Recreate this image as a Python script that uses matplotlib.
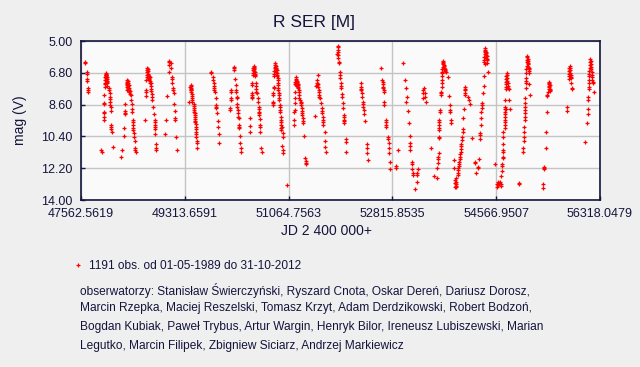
import numpy as np
import matplotlib
matplotlib.use("Agg")
import matplotlib.pyplot as plt

# R Ser light curve, (JD - 2400000, visual mag) read per cycle
c01 = [(47635, 6.17), (47635, 6.26), (47658, 6.77), (47658, 6.87), (47669, 7.17), (47669, 7.25),
       (47686, 7.68), (47686, 7.77), (47686, 7.87)]
c02 = [(47907, 11.15), (47912, 11.28), (47955, 8.06), (47955, 8.49), (47955, 8.57), (47955, 9.0),
       (47955, 9.06), (47955, 9.28), (47955, 9.47), (47967, 7.6), (47968, 7.45), (47970, 7.35),
       (47972, 7.2), (47975, 7.05), (47977, 6.95), (47978, 6.85), (47980, 6.9), (47983, 7.0),
       (47985, 7.1), (47988, 7.2), (47990, 6.8), (47992, 6.92), (47995, 7.3), (47998, 7.15),
       (48000, 7.05), (48003, 7.25), (48006, 7.4), (48008, 7.55), (48040, 7.68), (48040, 7.77),
       (48045, 7.96), (48050, 8.15), (48053, 8.3), (48055, 8.43), (48060, 8.62), (48065, 8.72),
       (48073, 8.96), (48073, 9.75), (48073, 9.89), (48073, 10.0), (48090, 10.15), (48107, 10.98)]
c03 = [(48241, 11.58), (48258, 11.17), (48292, 9.94), (48292, 10.4), (48309, 8.58), (48309, 8.96),
       (48309, 9.06), (48309, 9.15), (48331, 7.6), (48333, 7.75), (48336, 7.45), (48338, 7.3),
       (48340, 7.2), (48343, 7.5), (48345, 7.35), (48348, 7.65), (48350, 7.25), (48354, 7.4),
       (48358, 7.55), (48362, 7.7), (48366, 7.8), (48370, 7.5), (48375, 7.65), (48380, 7.9),
       (48386, 7.85), (48393, 8.0), (48404, 8.06), (48404, 8.34), (48426, 8.58), (48426, 8.87),
       (48426, 9.0), (48443, 9.47), (48443, 9.57), (48443, 9.75), (48443, 9.94), (48443, 10.04),
       (48460, 10.23), (48460, 10.42), (48477, 10.66), (48471, 11.08), (48471, 11.17), (48494, 11.3)]
c04 = [(48645, 9.47), (48662, 7.77), (48662, 7.87), (48662, 8.11), (48664, 7.2), (48668, 7.05),
       (48672, 6.9), (48676, 6.75), (48680, 6.65), (48684, 6.55), (48688, 6.6), (48690, 6.7),
       (48694, 6.85), (48698, 6.95), (48702, 7.1), (48706, 7.0), (48710, 7.15), (48714, 7.2),
       (48720, 7.05), (48726, 7.25), (48732, 7.35), (48746, 7.4), (48746, 7.55), (48748, 7.7),
       (48750, 7.85), (48752, 8.0), (48763, 8.15), (48763, 8.34), (48780, 8.72), (48797, 9.15),
       (48808, 9.47), (48808, 9.57), (48814, 9.75), (48814, 9.89), (48814, 10.0), (48814, 10.28),
       (48830, 10.83), (48836, 11.08), (48836, 11.17)]
c05 = [(48982, 10.28), (48999, 9.47), (49016, 8.11), (49050, 6.2), (49055, 6.11), (49055, 6.36),
       (49049, 6.77), (49077, 6.26), (49077, 6.55), (49100, 7.06), (49100, 7.17), (49105, 7.4),
       (49117, 7.68), (49117, 7.77), (49133, 7.96), (49133, 8.58), (49150, 8.96), (49150, 9.38),
       (49150, 9.47), (49173, 10.45), (49184, 11.17)]
c06 = [(49381, 8.45), (49409, 7.6), (49411, 7.5), (49413, 7.65), (49416, 7.55), (49418, 7.7),
       (49420, 7.8), (49423, 7.75), (49426, 7.9), (49428, 8.0), (49431, 8.1), (49434, 8.2),
       (49437, 8.35), (49440, 8.45), (49465, 8.55), (49467, 8.7), (49470, 8.8), (49473, 8.9),
       (49476, 9.0), (49479, 9.1), (49482, 9.2), (49485, 9.3), (49488, 9.4), (49490, 9.5),
       (49493, 9.6), (49496, 9.7), (49504, 9.85), (49504, 10.0), (49504, 10.13), (49504, 10.28),
       (49504, 10.42), (49516, 10.66), (49516, 10.79), (49516, 11.08)]
c07 = [(49762, 6.77), (49762, 6.83), (49790, 7.02), (49790, 7.2), (49807, 7.4), (49807, 7.55),
       (49807, 7.68), (49810, 7.77), (49824, 7.87), (49841, 8.25), (49841, 8.62), (49841, 8.72),
       (49841, 8.81), (49858, 9.09), (49875, 9.53), (49875, 9.89), (49891, 10.28), (49891, 10.79)]
c08 = [(50077, 8.81), (50077, 8.91), (50093, 7.77), (50093, 7.87), (50093, 8.25), (50093, 8.34),
       (50144, 6.49), (50144, 6.55), (50144, 6.64), (50161, 7.17), (50172, 7.49), (50178, 7.77),
       (50178, 7.87), (50194, 8.15), (50194, 8.25), (50194, 8.58), (50194, 8.72), (50211, 8.91),
       (50211, 9.09), (50211, 9.28), (50228, 9.38), (50228, 9.75), (50228, 9.89), (50228, 9.94),
       (50245, 10.4), (50245, 10.79), (50262, 11.08), (50262, 11.3)]
c09 = [(50413, 9.38), (50413, 9.79), (50413, 10.17), (50447, 7.4), (50447, 7.49), (50447, 7.96),
       (50447, 8.06), (50447, 8.15), (50447, 8.25), (50464, 6.95), (50466, 6.8), (50469, 6.65),
       (50472, 6.55), (50475, 6.45), (50478, 6.42), (50481, 6.5), (50484, 6.6), (50487, 6.7),
       (50490, 6.85), (50494, 6.75), (50498, 6.9), (50503, 6.98), (50514, 7.4), (50514, 7.55),
       (50516, 7.7), (50520, 7.87), (50525, 7.96), (50548, 8.25), (50548, 8.47), (50559, 8.72),
       (50559, 8.85), (50559, 9.0), (50562, 9.1), (50562, 9.19), (50582, 9.43), (50582, 9.75),
       (50582, 9.89), (50582, 10.17), (50598, 11.08), (50615, 11.3)]
c10 = [(50800, 7.96), (50800, 8.06), (50800, 8.43), (50800, 8.53), (50800, 8.62), (50817, 7.58),
       (50817, 7.68), (50820, 7.0), (50823, 6.85), (50826, 6.7), (50830, 6.55), (50834, 6.45),
       (50838, 6.36), (50842, 6.26), (50846, 6.4), (50850, 6.5), (50854, 6.6), (50858, 6.75),
       (50862, 6.65), (50866, 6.9), (50870, 6.8), (50875, 7.0), (50880, 7.1), (50885, 7.2),
       (50885, 7.35), (50887, 7.5), (50889, 7.65), (50892, 7.8), (50895, 7.96), (50901, 8.06),
       (50901, 8.2), (50903, 8.34), (50918, 8.62), (50918, 8.75), (50918, 8.9), (50920, 9.0),
       (50935, 9.28), (50935, 9.45), (50935, 9.6), (50937, 9.75), (50937, 9.9), (50937, 10.04),
       (50952, 9.85), (50969, 10.23), (50969, 10.42), (50952, 10.94), (50969, 11.17),
       (50969, 11.36), (51036, 13.17)]
c11 = [(51149, 9.0), (51149, 9.47), (51149, 9.75), (51166, 7.87), (51166, 8.25), (51166, 8.53),
       (51166, 8.91), (51177, 7.45), (51180, 7.3), (51183, 7.15), (51186, 7.06), (51190, 7.2),
       (51193, 7.35), (51197, 7.5), (51200, 7.25), (51204, 7.4), (51208, 7.55), (51212, 7.3),
       (51216, 7.45), (51220, 7.58), (51225, 7.5), (51230, 7.65), (51244, 7.77), (51244, 7.9),
       (51246, 8.05), (51248, 8.2), (51250, 8.34), (51272, 8.43), (51272, 8.53), (51272, 8.62),
       (51289, 8.81), (51289, 8.95), (51289, 9.1), (51289, 9.19), (51300, 9.38), (51300, 9.5),
       (51300, 9.66), (51323, 10.4), (51340, 11.64), (51356, 11.77), (51356, 11.88), (51356, 11.98)]
c12 = [(51508, 9.25), (51525, 7.55), (51541, 7.2), (51558, 6.92), (51547, 7.4), (51552, 7.5),
       (51558, 7.58), (51564, 7.45), (51581, 7.77), (51581, 7.9), (51583, 8.05), (51585, 8.15),
       (51587, 8.25), (51609, 8.53), (51626, 8.81), (51626, 8.95), (51626, 9.09), (51643, 9.28),
       (51643, 9.45), (51643, 9.6), (51643, 9.75), (51676, 10.17), (51676, 10.66), (51676, 10.98),
       (51693, 11.3)]
c13 = [(51895, 5.28), (51895, 5.35), (51895, 5.51), (51884, 5.74), (51906, 5.6), (51906, 5.8),
       (51906, 5.98), (51917, 6.17), (51917, 6.26), (51928, 6.77), (51940, 6.92), (51940, 7.11),
       (51951, 7.4), (51951, 7.55), (51951, 7.68), (51962, 8.0), (51962, 8.15), (51979, 8.53),
       (51979, 8.81), (51996, 9.19), (51996, 9.3), (51996, 9.45), (51996, 9.55), (51996, 9.66),
       (52030, 10.55), (52030, 10.7), (52030, 11.3)]
c14 = [(52282, 7.36), (52282, 7.58), (52285, 7.7), (52290, 7.8), (52300, 7.95), (52310, 8.15),
       (52316, 8.43), (52316, 8.55), (52316, 8.72), (52333, 8.91), (52333, 9.13), (52349, 9.53),
       (52383, 10.85), (52383, 11.08), (52383, 11.36), (52400, 11.74)]
c15 = [(52619, 6.55), (52636, 7.2), (52653, 7.3), (52653, 7.45), (52653, 7.6), (52655, 7.68),
       (52669, 7.77), (52669, 7.87), (52669, 8.43), (52669, 8.62), (52703, 9.47), (52703, 9.6),
       (52703, 9.75), (52703, 9.89), (52736, 10.42), (52736, 10.57), (52753, 10.79),
       (52753, 11.08), (52753, 11.36), (52770, 11.87), (52770, 12.26)]
c16 = [(52872, 12.08), (52872, 12.19), (52906, 11.17), (52990, 6.26), (53023, 7.2), (53040, 7.68),
       (53040, 8.47), (53057, 8.19), (53074, 8.98), (53091, 9.66), (53108, 10.4), (53108, 10.79),
       (53108, 10.94), (53108, 11.17), (53141, 11.83), (53141, 11.96), (53141, 12.26),
       (53164, 12.49), (53164, 12.6), (53192, 13.4), (53225, 12.49), (53225, 12.6), (53225, 13.0),
       (53248, 12.26)]
c17 = [(53332, 8.25), (53337, 7.96), (53337, 7.77), (53348, 7.68), (53360, 7.92), (53360, 8.15),
       (53377, 8.47), (53461, 11.08), (53511, 12.64), (53562, 12.75)]
c18 = [(53567, 12.17), (53579, 11.55), (53579, 11.7), (53579, 11.92), (53596, 11.36),
       (53596, 10.42), (53596, 10.51), (53607, 9.47), (53607, 9.6), (53607, 9.75), (53607, 9.9),
       (53607, 10.04), (53624, 8.91), (53624, 9.0), (53640, 7.87), (53640, 7.95), (53640, 8.06),
       (53646, 6.83), (53646, 7.0), (53646, 7.2), (53646, 7.4), (53646, 7.58), (53657, 6.74),
       (53660, 6.6), (53663, 6.45), (53666, 6.3), (53669, 6.2), (53672, 6.11), (53676, 6.25),
       (53680, 6.4), (53684, 6.35), (53688, 6.5), (53692, 6.55), (53697, 6.6), (53702, 6.7),
       (53707, 6.65), (53713, 6.77), (53747, 7.06), (53764, 8.11), (53781, 8.62), (53781, 8.91),
       (53781, 9.0), (53798, 9.47), (53798, 9.66), (53848, 11.74), (53848, 12.17), (53882, 12.75),
       (53880, 12.87), (53890, 12.96), (53878, 13.06), (53892, 13.09), (53884, 13.19),
       (53880, 13.28), (53895, 13.25)]
c19 = [(53915, 12.6), (53920, 12.45), (53925, 12.3), (53930, 12.2), (53935, 12.08), (53940, 11.95),
       (53945, 11.83), (53950, 11.7), (53955, 11.55), (53960, 11.4), (53965, 11.26), (53970, 11.1),
       (53972, 10.94), (53975, 10.85), (53983, 10.6), (53994, 10.42), (54000, 10.0),
       (54000, 10.13), (54000, 9.38), (54016, 8.87), (54033, 8.06), (54033, 7.58), (54038, 7.7),
       (54042, 7.8), (54045, 7.96), (54084, 8.15), (54101, 8.34), (54118, 8.58), (54151, 10.47)]
c20 = [(54207, 11.83), (54207, 11.92), (54230, 12.49), (54253, 12.11), (54253, 12.21),
       (54269, 11.68), (54286, 10.57), (54292, 10.23), (54292, 10.32), (54303, 9.75),
       (54303, 9.38), (54308, 9.0), (54319, 8.53), (54319, 8.65), (54319, 8.81), (54336, 7.96),
       (54353, 7.55), (54359, 6.98), (54370, 6.32), (54362, 6.2), (54365, 6.05), (54368, 5.9),
       (54371, 5.75), (54374, 5.6), (54377, 5.5), (54380, 5.42), (54384, 5.55), (54388, 5.65),
       (54392, 5.8), (54396, 5.7), (54400, 5.95), (54405, 5.85), (54410, 6.0), (54416, 6.1),
       (54420, 6.26), (54426, 6.77), (54555, 11.96)]
c21 = [(54584, 13.25), (54588, 13.1), (54592, 13.0), (54600, 13.15), (54610, 13.05),
       (54625, 12.96), (54640, 13.2), (54645, 13.1), (54640, 12.64), (54657, 12.36),
       (54662, 12.08), (54662, 11.98), (54674, 11.64), (54674, 11.55), (54679, 11.17),
       (54679, 11.26), (54690, 10.85), (54690, 10.45), (54690, 10.17), (54707, 9.94),
       (54707, 9.75), (54707, 9.6), (54707, 9.45), (54707, 9.3), (54707, 9.15), (54707, 9.0),
       (54707, 8.85), (54707, 8.72), (54718, 8.34), (54724, 8.87), (54724, 7.74), (54727, 7.6),
       (54730, 7.45), (54733, 7.3), (54736, 7.15), (54740, 7.0), (54744, 6.83), (54748, 6.95),
       (54752, 7.1), (54756, 7.25), (54760, 7.4), (54765, 7.55), (54770, 7.65), (54775, 7.7),
       (54791, 8.34), (54808, 8.85)]
c22 = [(54960, 13.09), (54960, 13.02), (55027, 11.08), (55027, 11.3), (55032, 10.66),
       (55044, 9.89), (55044, 10.17), (55044, 10.42), (55049, 9.47), (55061, 9.28), (55061, 9.1),
       (55061, 8.91), (55061, 8.72), (55061, 8.49), (55061, 8.25), (55066, 7.68), (55072, 7.11),
       (55072, 7.25), (55072, 7.4), (55075, 6.83), (55078, 6.6), (55080, 6.4), (55083, 6.2),
       (55086, 6.05), (55089, 5.9), (55092, 5.85), (55095, 6.0), (55098, 6.15), (55102, 6.3),
       (55106, 6.45), (55110, 6.25), (55114, 6.55), (55118, 6.7), (55122, 6.6), (55128, 6.8),
       (55128, 7.43), (55145, 8.06)]
c23 = [(55352, 13.3), (55352, 13.11), (55380, 12.26), (55380, 12.11), (55380, 12.19),
       (55414, 11.08), (55414, 10.17), (55431, 9.04), (55431, 8.06), (55431, 8.11), (55448, 7.87),
       (55450, 7.7), (55452, 7.55), (55455, 7.4), (55458, 7.3), (55462, 7.45), (55466, 7.6),
       (55470, 7.5), (55474, 7.7), (55478, 7.8), (55482, 7.85)]
c24 = [(55768, 8.75), (55768, 8.98), (55790, 7.17), (55793, 7.0), (55796, 6.85), (55800, 6.7),
       (55803, 6.55), (55806, 6.42), (55810, 6.5), (55814, 6.65), (55818, 6.8), (55822, 6.95),
       (55826, 7.05), (55830, 7.1), (55836, 7.4), (55852, 7.68), (55852, 7.74)]
c25 = [(56070, 10.74), (56104, 9.66), (56121, 9.15), (56121, 8.87), (56121, 8.34), (56121, 8.15),
       (56138, 7.74), (56138, 7.58), (56127, 7.4), (56130, 7.2), (56133, 7.0), (56136, 6.85),
       (56140, 6.7), (56143, 6.5), (56146, 6.35), (56150, 6.2), (56154, 6.04), (56158, 6.15),
       (56162, 6.3), (56166, 6.45), (56170, 6.6), (56175, 6.75), (56180, 6.9), (56185, 7.05),
       (56190, 7.2), (56194, 7.3), (56205, 7.4), (56222, 7.87)]

cycles = [c01, c02, c03, c04, c05, c06, c07, c08, c09, c10, c11, c12, c13,
          c14, c15, c16, c17, c18, c19, c20, c21, c22, c23, c24, c25]

x_ticks = [47562.5619, 49313.6591, 51064.7563, 52815.8535, 54566.9507, 56318.0479]
y_ticks = [5.00, 6.80, 8.60, 10.40, 12.20, 14.00]

legend_label = "1191 obs. od 01-05-1989 do 31-10-2012"
observers = [
    "obserwatorzy: Stanisław Świerczyński, Ryszard Cnota, Oskar Dereń, Dariusz Dorosz,",
    "Marcin Rzepka, Maciej Reszelski, Tomasz Krzyt, Adam Derdzikowski, Robert Bodzoń,",
    "Bogdan Kubiak, Paweł Trybus, Artur Wargin, Henryk Bilor, Ireneusz Lubiszewski, Marian",
    "Legutko, Marcin Filipek, Zbigniew Siciarz, Andrzej Markiewicz",
]

NAVY = "#14143c"
W, H = 640, 367

plt.rcParams["font.family"] = ["Liberation Sans", "DejaVu Sans"]

pts = np.array([p for c in cycles for p in c])
jd = pts[:, 0]
mag = pts[:, 1]

fig = plt.figure(figsize=(W / 100, H / 100), dpi=100, facecolor="#efefef")
ax = fig.add_axes([81 / W, 1 - 200 / H, 519 / W, 159 / H])
ax.set_facecolor("#fafafa")

ax.plot(jd, mag, linestyle="none", marker="+", color="#ff0000",
        markersize=3.3, markeredgewidth=0.9, label=legend_label)

ax.set_xlim(x_ticks[0], x_ticks[-1])
ax.set_ylim(y_ticks[-1], y_ticks[0])
ax.set_xticks(x_ticks)
ax.set_yticks(y_ticks)
ax.set_xticklabels(["%.4f" % t for t in x_ticks])
ax.set_yticklabels(["%.2f" % t for t in y_ticks])
ax.grid(True, color="#c4c4c4", linewidth=1)
ax.set_axisbelow(True)
ax.tick_params(direction="in", length=3, width=1, color=NAVY,
               labelcolor=NAVY, labelsize=9, pad=6)
for s in ax.spines.values():
    s.set_color(NAVY)
    s.set_linewidth(1.2)

fig.text(0.49, 1 - 22 / H, "R SER [M]", ha="center", va="center", fontsize=12.5, color=NAVY)
fig.text(0.51, 1 - 231 / H, "JD 2 400 000+", ha="center", va="center", fontsize=10, color=NAVY)
fig.text(20 / W, 1 - 120 / H, "mag (V)", ha="center", va="center", rotation=90,
         fontsize=10, color=NAVY)

ax.legend(loc="center left", bbox_to_anchor=(62 / W, 1 - 266 / H),
          bbox_transform=fig.transFigure, frameon=False, fontsize=8.6,
          handlelength=0.8, handletextpad=0.6, markerscale=0.8, labelcolor=NAVY)

for i, line in enumerate(observers):
    fig.text(80 / W, 1 - (290 + i * 18.5) / H, line, ha="left", va="center",
             fontsize=8.6, color=NAVY)

fig.savefig("out.png", dpi=100, facecolor=fig.get_facecolor())
